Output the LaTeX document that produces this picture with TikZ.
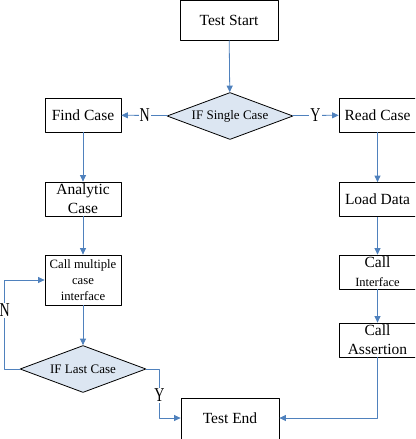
\documentclass[tikz,border=0pt]{standalone}
\usepackage{fontspec}
\usepackage{graphicx}
\setmainfont{Liberation Serif}
\usetikzlibrary{shapes.geometric,arrows.meta}
\definecolor{flowblue}{RGB}{79,129,189}
\definecolor{condfill}{RGB}{220,230,242}
\newcommand{\tall}[1]{\scalebox{1}[1.4]{#1}}
\tikzset{
	box/.style={draw, line width=.8pt, inner sep=0pt, minimum width=77pt, minimum height=34pt, align=center, font=\fontsize{15.5}{19}\selectfont},
	cond/.style={diamond, draw, line width=.8pt, fill=condfill, aspect=2.7, inner sep=0pt, minimum width=126pt, minimum height=47pt, font=\fontsize{13}{15}\selectfont},
	flow/.style={->, draw=flowblue, line width=.8pt},
	tag/.style={fill=white, inner sep=1pt, font=\fontsize{14}{17}\selectfont}
}
\begin{document}
\begin{tikzpicture}[x=1pt, y=-1pt, >={Triangle[length=6.5pt,width=6pt]}, line join=round]
	\clip (0,0) rectangle (415,439);
	\node[box, minimum width=98pt, minimum height=40pt] (start) at (229,20) {Test Start};
	\node[cond] (single) at (230,116) {IF Single Case};
	% left branch
	\node[box, minimum width=76pt] (find) at (83,115) {Find Case};
	\node[box, minimum width=76pt] (analytic) at (83,199) {Analytic\\Case};
	\node[box, minimum width=76pt, minimum height=50pt, font=\fontsize{12.7}{16}\selectfont] (multi) at (83,280) {Call multiple\\case\\interface};
	\node[cond] (last) at (83,369) {IF Last Case};
	% right branch
	\node[box] (read) at (377.5,115) {Read Case};
	\node[box] (load) at (377.5,199.5) {Load Data};
	\node[box] (iface) at (377.5,272) {Call\\{\fontsize{12.5}{14}\selectfont Interface}};
	\node[box] (assert) at (377.5,340) {Call\\Assertion};
	\node[box, minimum width=98pt, minimum height=44pt] (end) at (230,420) {};
	\node[font=\fontsize{15.5}{17}\selectfont] (endtext) at (230,418) {Test End};
	% connectors
	\draw[flow] (start) -- (single);
	\draw[flow] (single) -- node[tag] {\tall{N}} (find);
	\draw[flow] (single) -- node[tag] {\tall{Y}} (read);
	\draw[flow] (find) -- (analytic);
	\draw[flow] (analytic) -- (multi);
	\draw[flow] (multi) -- (last);
	\draw[flow] (last.west) -- ++(-15,0) |- node[tag, pos=.33] {\tall{N}} (multi.west);
	\draw[flow] (last.east) -- ++(13,0) |- node[tag, pos=.27] {\tall{Y}} (end.west |- endtext);
	\draw[flow] (read) -- (load);
	\draw[flow] (load) -- (iface);
	\draw[flow] (iface) -- (assert);
	\draw[flow] (assert.south) |- (end.east |- endtext);
\end{tikzpicture}
\end{document}
